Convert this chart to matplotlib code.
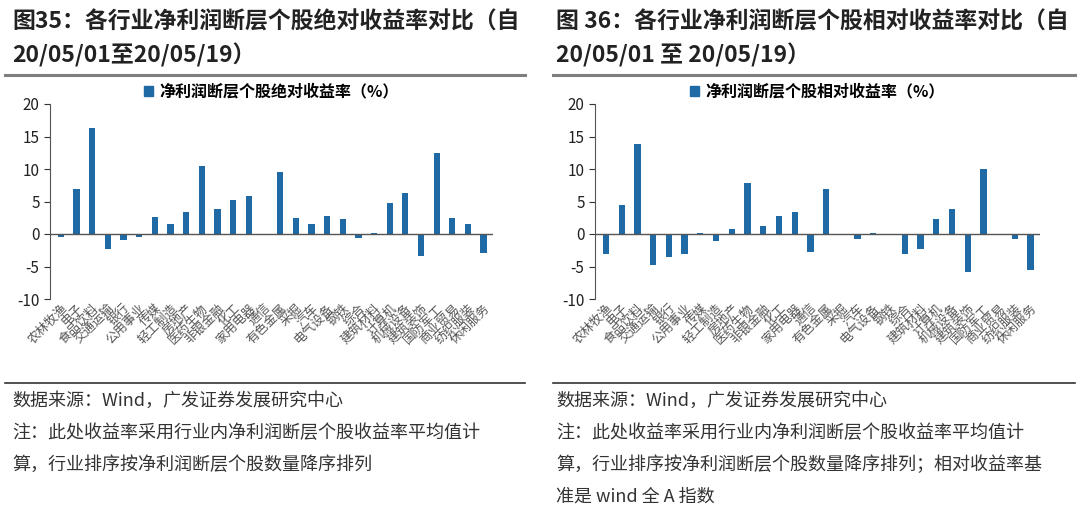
import matplotlib
matplotlib.use('Agg')
import matplotlib.pyplot as plt
from matplotlib.patches import Patch
from matplotlib.lines import Line2D

plt.rcParams['font.family'] = ['Noto Sans CJK SC', 'DejaVu Sans']
plt.rcParams['axes.unicode_minus'] = False

# industries, sorted by number of stocks with a profit gap (as in the source)
industries = ['农林牧渔', '电子', '食品饮料', '交通运输', '银行', '公用事业', '传媒',
              '轻工制造', '房地产', '医药生物', '非银金融', '化工', '家用电器', '通信',
              '有色金属', '采掘', '汽车', '电气设备', '钢铁', '综合', '建筑材料',
              '计算机', '机械设备', '建筑装饰', '国防军工', '商业贸易', '纺织服装', '休闲服务']

# absolute return (%)
abs_ret = [-0.4, 6.9, 16.3, -2.3, -0.9, -0.4, 2.6, 1.6, 3.4, 10.4, 3.8, 5.3, 5.8, -0.2,
           9.6, 2.4, 1.6, 2.7, 2.3, -0.6, 0.2, 4.8, 6.3, -3.4, 12.4, 2.5, 1.6, -2.9]

# relative return vs wind A index (%)
rel_ret = [-3.1, 4.5, 13.8, -4.8, -3.5, -3.1, 0.1, -1.0, 0.8, 7.9, 1.2, 2.8, 3.4, -2.7,
           7.0, -0.1, -0.8, 0.1, -0.2, -3.1, -2.3, 2.3, 3.8, -5.9, 10.0, 0.0, -0.8, -5.5]

titles = [['图35：各行业净利润断层个股绝对收益率对比（自', '20/05/01至20/05/19）'],
          ['图 36：各行业净利润断层个股相对收益率对比（自', '20/05/01 至 20/05/19）']]
legend_labels = ['净利润断层个股绝对收益率（%）', '净利润断层个股相对收益率（%）']
notes = [['数据来源：Wind，广发证券发展研究中心',
          '注：此处收益率采用行业内净利润断层个股收益率平均值计',
          '算，行业排序按净利润断层个股数量降序排列'],
         ['数据来源：Wind，广发证券发展研究中心',
          '注：此处收益率采用行业内净利润断层个股收益率平均值计',
          '算，行业排序按净利润断层个股数量降序排列；相对收益率基',
          '准是 wind 全 A 指数']]

BAR = '#1F69A4'
W, H = 1080, 518

fig = plt.figure(figsize=(W / 100, H / 100), dpi=100)


def px(x, y):
    return x / W, 1 - y / H


panels = [
    {'data': abs_ret, 'ax_left': 50, 'ax_right': 493, 'x0': 12, 'line': (5, 525)},
    {'data': rel_ret, 'ax_left': 595, 'ax_right': 1040, 'x0': 556, 'line': (553, 1075)},
]

for i, p in enumerate(panels):
    l, r = p['ax_left'], p['ax_right']
    ax = fig.add_axes([l / W, 1 - 299 / H, (r - l) / W, (299 - 104) / H])
    x = list(range(len(industries)))
    ax.bar(x, p['data'], width=0.4, color=BAR, zorder=2)
    ax.axhline(0, color='#555555', lw=1.0, zorder=3)
    ax.set_ylim(-10, 20)
    ax.set_xlim(-0.7, 27.6)
    ax.set_yticks([-10, -5, 0, 5, 10, 15, 20])
    ax.tick_params(axis='y', labelsize=11, colors='#333333', length=4, width=0.8,
                   labelcolor='#222222')
    ax.set_xticks(x)
    ax.set_xticklabels(industries, rotation=45, ha='right', rotation_mode='anchor',
                       fontsize=9, color='#555555')
    ax.tick_params(axis='x', length=0, pad=2)
    for s in ['top', 'right', 'bottom']:
        ax.spines[s].set_visible(False)
    ax.spines['left'].set_color('#555555')
    ax.spines['left'].set_linewidth(0.8)

    handle = Patch(facecolor=BAR, edgecolor=BAR)
    ax.legend([handle], [legend_labels[i]], loc='lower center', bbox_to_anchor=(0.5, 0.99),
              frameon=False, prop={'size': 11.5, 'weight': 'bold'}, handlelength=0.6,
              handleheight=0.6, handletextpad=0.4, borderaxespad=0)

    # title
    for k, line in enumerate(titles[i]):
        fx, fy = px(p['x0'], 22 + k * 33)
        fig.text(fx, fy, line, fontsize=16.5, fontweight='bold', color='#222222',
                 va='center', ha='left')

    # separator lines
    a, b = p['line']
    fig.add_artist(Line2D([a / W, b / W], [1 - 75 / H] * 2, color='#7f7f7f', lw=2.2))
    fig.add_artist(Line2D([a / W, b / W], [1 - 383 / H] * 2, color='#333333', lw=1.2))

    # source and notes
    for k, line in enumerate(notes[i]):
        nx, ny = px(p['x0'], 401 + k * 32)
        fig.text(nx, ny, line, fontsize=13, color='#333333', va='center', ha='left')

fig.savefig('out.png', dpi=100)
